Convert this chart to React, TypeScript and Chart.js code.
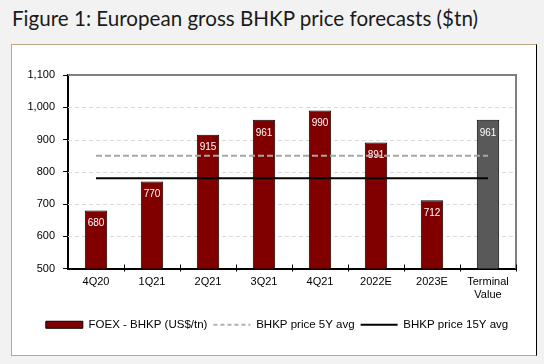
import React, { useEffect, useRef } from "react";
import { Chart, registerables } from "chart.js";

Chart.register(...registerables);

const categories: string[][] = [
  ["4Q20"], ["1Q21"], ["2Q21"], ["3Q21"], ["4Q21"], ["2022E"], ["2023E"], ["Terminal", "Value"],
];
const foexValues = [680, 770, 915, 961, 990, 891, 712, 961];
const barLabels = ["680", "770", "915", "961", "990", "891", "712", "961"];
const avg5Y = [850, 850, 850, 850, 850, 850, 850, 850];
const avg15Y = [780, 780, 780, 780, 780, 780, 780, 780];
const yMin = 500;
const yMax = 1100;
const yStep = 100;

const RED = "#800000";
const GREY_BAR = "#595959";

const FONT = "'Liberation Sans', Arial, sans-serif";

const gridPlugin = {
  id: "gridPlugin",
  beforeDatasetsDraw(chart: any) {
    const { ctx, chartArea } = chart;
    const y = chart.scales.y;
    const x = chart.scales.x;
    ctx.save();
    ctx.strokeStyle = "#d9d9d9";
    ctx.lineWidth = 1;
    ctx.setLineDash([4, 3]);
    for (let v = yMin + yStep; v < yMax; v += yStep) {
      const py = Math.round(y.getPixelForValue(v)) + 0.5;
      ctx.beginPath();
      ctx.moveTo(chartArea.left, py);
      ctx.lineTo(chartArea.right, py);
      ctx.stroke();
    }
    ctx.setLineDash([]);
    ctx.strokeStyle = "#7f7f7f";
    ctx.lineWidth = 2;
    const top = y.getPixelForValue(yMax);
    ctx.beginPath();
    ctx.moveTo(chartArea.left, top);
    ctx.lineTo(chartArea.right, top);
    ctx.lineTo(chartArea.right, chartArea.bottom);
    ctx.stroke();
    ctx.strokeStyle = "#000";
    ctx.lineWidth = 1;
    const n = categories.length;
    for (let i = 1; i <= n; i++) {
      const a = x.getPixelForValue(i - 1);
      const b = i < n ? x.getPixelForValue(i) : a + (a - x.getPixelForValue(i - 2));
      const px = Math.round((a + b) / 2) + 0.5;
      ctx.beginPath();
      ctx.moveTo(px, chartArea.bottom - 4);
      ctx.lineTo(px, chartArea.bottom + 3);
      ctx.stroke();
    }
    ctx.restore();
  },
};

const labelPlugin = {
  id: "labelPlugin",
  afterDatasetDraw(chart: any, args: any) {
    if (args.index !== 0) return;
    const { ctx } = chart;
    const meta = chart.getDatasetMeta(0);
    ctx.save();
    ctx.fillStyle = "#ffffff";
    ctx.font = `10px ${FONT}`;
    ctx.textAlign = "center";
    ctx.textBaseline = "middle";
    meta.data.forEach((el: any, i: number) => {
      ctx.fillText(barLabels[i], el.x, el.y + 13);
    });
    ctx.restore();
  },
};

const legendShift = {
  id: "legendShift",
  afterLayout(chart: any) {
    if (chart.legend) {
      chart.legend.left += 13;
      chart.legend.right += 13;
    }
  },
};

export default function App() {
  const ref = useRef<HTMLCanvasElement>(null);

  useEffect(() => {
    if (!ref.current) return;
    const chart = new Chart(ref.current, {
      type: "bar",
      data: {
        labels: categories as any,
        datasets: [
          {
            type: "bar",
            label: "FOEX - BHKP (US$/tn)",
            data: foexValues,
            backgroundColor: foexValues.map((_, i) => (i === foexValues.length - 1 ? GREY_BAR : RED)),
            borderColor: "#000000",
            borderWidth: 1,
            barPercentage: 0.4,
            categoryPercentage: 1,
            order: 3,
          } as any,
          {
            type: "line",
            label: "BHKP price 5Y avg",
            data: avg5Y,
            borderColor: "#a6a6a6",
            borderWidth: 2,
            borderDash: [6, 3],
            pointRadius: 0,
            fill: false,
            order: 2,
          } as any,
          {
            type: "line",
            label: "BHKP price 15Y avg",
            data: avg15Y,
            borderColor: "#000000",
            borderWidth: 2,
            pointRadius: 0,
            fill: false,
            order: 1,
          } as any,
        ],
      },
      options: {
        responsive: false,
        animation: false,
        layout: { padding: { left: 12, right: 28, top: 75, bottom: 23.5 } },
        font: { family: FONT, size: 11 } as any,
        scales: {
          x: {
            grid: { display: false, drawTicks: false, offset: true },
            border: { color: "#000", width: 2 },
            ticks: { color: "#000", font: { family: FONT, size: 11 }, padding: 7, maxRotation: 0 },
            afterFit(scale: any) {
              scale.height = 44.5;
            },
          },
          y: {
            min: yMin,
            max: yMax,
            grid: { drawOnChartArea: false, drawTicks: true, tickLength: 5, tickColor: "#000" },
            border: { color: "#000", width: 2 },
            ticks: {
              stepSize: yStep,
              color: "#000",
              font: { family: FONT, size: 11 },
              padding: 8,
              callback: (v: any) => Number(v).toLocaleString("en-US"),
            },
            afterFit(scale: any) {
              scale.width = 56;
            },
          },
        },
        plugins: {
          tooltip: { enabled: false },
          legend: {
            position: "bottom",
            labels: {
              color: "#000",
              font: { family: FONT, size: 11.5 },
              usePointStyle: true,
              pointStyleWidth: 37,
              boxHeight: 7,
              padding: 6,
              generateLabels: () => [
                {
                  text: "FOEX - BHKP (US$/tn)",
                  fillStyle: RED,
                  strokeStyle: "#000",
                  lineWidth: 1,
                  pointStyle: "rect",
                  datasetIndex: 0,
                  fontColor: "#000",
                } as any,
                {
                  text: "BHKP price 5Y avg",
                  fillStyle: "#b0b0b0",
                  strokeStyle: "#b0b0b0",
                  lineWidth: 2,
                  lineDash: [4, 3],
                  pointStyle: "line",
                  datasetIndex: 1,
                  fontColor: "#000",
                } as any,
                {
                  text: "BHKP price 15Y avg",
                  fillStyle: "#000",
                  strokeStyle: "#000",
                  lineWidth: 2,
                  pointStyle: "line",
                  datasetIndex: 2,
                  fontColor: "#000",
                } as any,
              ],
            },
          },
        },
      },
      plugins: [gridPlugin, labelPlugin, legendShift],
    });
    return () => chart.destroy();
  }, []);

  return (
    <div
      style={{
        position: "absolute",
        left: 0,
        top: 0,
        width: 544,
        height: 364,
        background: "#f2f2f2",
        overflow: "hidden",
      }}
    >
      <div
        style={{
          position: "absolute",
          left: 12,
          top: 6,
          fontFamily: "Lato, 'Open Sans', sans-serif",
          fontSize: 20.6,
          color: "#1a1a1a",
          whiteSpace: "nowrap",
          lineHeight: 1.2,
        }}
      >
        Figure 1: European gross BHKP price forecasts ($tn)
      </div>
      <div
        style={{
          position: "absolute",
          left: 11,
          top: 44,
          width: 526,
          height: 312,
          boxSizing: "border-box",
          background: "#ffffff",
          borderLeft: "1px solid #c0a57e",
          borderTop: "1px solid #c0a57e",
          borderBottom: "1px solid #c0a57e",
          borderRight: "1px solid #000000",
        }}
      />
      <canvas
        ref={ref}
        width={544}
        height={364}
        style={{ position: "absolute", left: 0, top: 0, width: 544, height: 364 }}
      />
    </div>
  );
}
